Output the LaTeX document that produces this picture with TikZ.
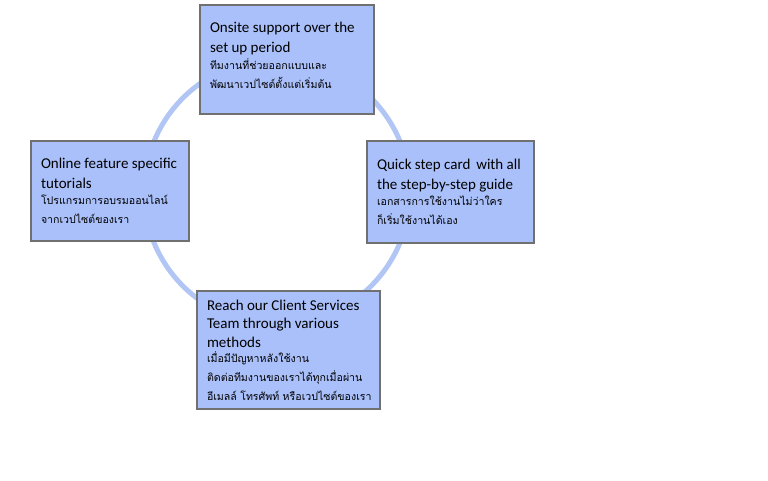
\documentclass[tikz,border=0pt]{standalone}
\usepackage{fontspec}
\setmainfont{Carlito}
\newfontfamily\thaifont[Script=Thai]{Loma}
\usetikzlibrary{positioning}
\definecolor{cardfill}{RGB}{170,192,250}
\definecolor{cardedge}{RGB}{112,112,112}
\definecolor{ringblue}{RGB}{178,198,245}
\newcommand\entxt{\fontsize{15}{19.5}\selectfont}
\newcommand\thtxt{\thaifont\fontsize{10.6}{19}\selectfont}
\tikzset{card/.style={draw=cardedge, fill=cardfill, line width=1.6pt, inner xsep=10pt, inner ysep=4pt, align=left, text=black},
         ring/.style={draw=ringblue, line width=5pt}}

\begin{document}
\begin{tikzpicture}[x=1pt,y=-1pt]
     \useasboundingbox[fill=white] (0,0) rectangle (768,480);
     \draw[ring] (277,192) circle (133);
     \node[card, minimum width=174, minimum height=109, text width=154] (onsite) at (287,59.5)
       {{\entxt Onsite support over the\\ set up period\par}\vspace{-1.5pt}{\thtxt ทีมงานที่ช่วยออกแบบและ\\ พัฒนาเวปไซต์ตั้งแต่เริ่มต้น\par}\vspace{8pt}};
     \node[card, minimum width=167, minimum height=102, text width=147] (quick) at (450.5,192)
       {{\entxt Quick step card\, with all\\ the step-by-step guide\par}\vspace{-2.5pt}{\thtxt เอกสารการใช้งานไม่ว่าใคร\\ ก็เริ่มใช้งานได้เอง\par}};
     \node[card, minimum width=158, minimum height=100, text width=138] (online) at (110,191)
       {{\entxt Online feature specific\\ tutorials\par}\vspace{-2.5pt}{\thtxt โปรแกรมการอบรมออนไลน์\\ จากเวปไซต์ของเรา\par}};
     \node[card, minimum width=183, minimum height=118, text width=163] (reach) at (288.5,350)
       {{\entxt\baselineskip=18.5pt Reach our Client Services\\ Team through various\\ methods\par}\vspace{-4pt}{\thtxt เมื่อมีปัญหาหลังใช้งาน\\ ติดต่อทีมงานของเราได้ทุกเมื่อผ่าน\\ \mbox{อีเมลล์ โทรศัพท์ หรือเวปไซต์ของเรา}\par}};
\end{tikzpicture}
\end{document}
